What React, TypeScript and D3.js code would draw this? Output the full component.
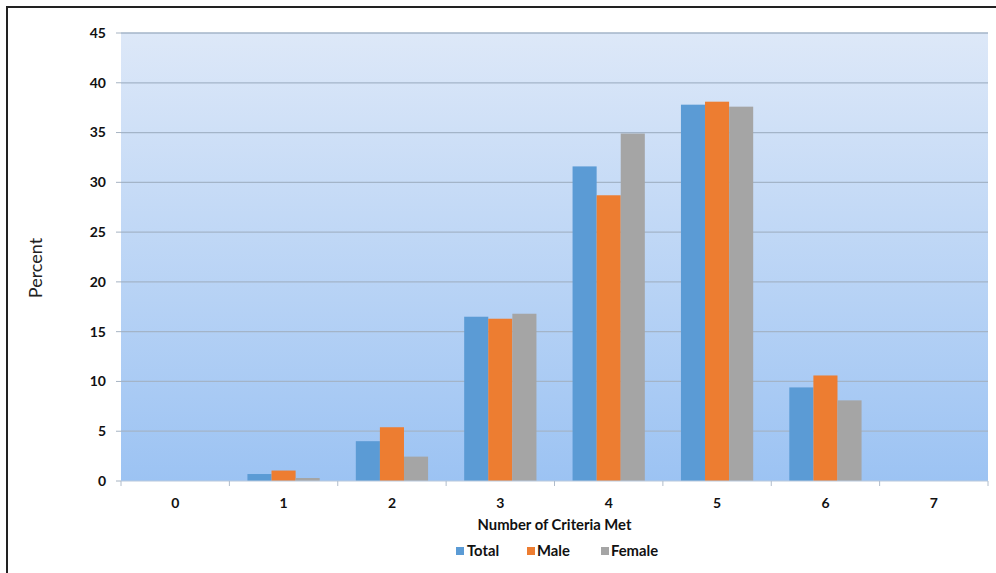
import React from "react";
import * as d3 from "d3";

const categories = ["0", "1", "2", "3", "4", "5", "6", "7"];
const seriesNames = ["Total", "Male", "Female"];
const totalValues = [0, 0.7, 4.0, 16.5, 31.6, 37.8, 9.4, 0];
const maleValues = [0, 1.05, 5.4, 16.3, 28.7, 38.1, 10.6, 0];
const femaleValues = [0, 0.3, 2.45, 16.8, 34.9, 37.6, 8.1, 0];
const yTicks = [0, 5, 10, 15, 20, 25, 30, 35, 40, 45];
const colors = ["#5b9bd5", "#ed7d31", "#a5a5a5"];

const W = 996;
const H = 573;
const plot = { left: 121, right: 988, top: 33, bottom: 481 };
const FONT = "Lato, 'Open Sans', sans-serif";

export default function App() {
  const x = d3
    .scaleBand<string>()
    .domain(categories)
    .range([plot.left, plot.right])
    .paddingInner(0)
    .paddingOuter(0);
  const y = d3.scaleLinear().domain([0, 45]).range([plot.bottom, plot.top]);
  const bw = x.bandwidth();
  const barW = bw / 4.5;
  const groupOffset = (bw - barW * 3) / 2;
  const series = [totalValues, maleValues, femaleValues];

  const legendItems = [
    { name: seriesNames[0], sx: 456, tx: 467 },
    { name: seriesNames[1], sx: 527, tx: 537 },
    { name: seriesNames[2], sx: 601, tx: 611 },
  ];

  return (
    <svg
      width={W}
      height={H}
      style={{ position: "absolute", left: 0, top: 0, background: "#fff" }}
      fontFamily={FONT}
    >
      <defs>
        <linearGradient id="bg" x1="0" y1="0" x2="0" y2="1">
          <stop offset="0" stopColor="#dde8f8" />
          <stop offset="1" stopColor="#9cc3f3" />
        </linearGradient>
      </defs>
      <rect x={7} y={7} width={W} height={H} fill="#fff" stroke="#222" strokeWidth={2} />
      <rect
        x={plot.left}
        y={plot.top}
        width={plot.right - plot.left}
        height={plot.bottom - plot.top}
        fill="url(#bg)"
      />
      {yTicks.map((t) => (
        <g key={t}>
          {t > 0 && (
            <line
              x1={plot.left}
              x2={plot.right}
              y1={y(t)}
              y2={y(t)}
              stroke="#a3b4c8"
              strokeWidth={1.3}
            />
          )}
          <line x1={plot.left - 5} x2={plot.left} y1={y(t)} y2={y(t)} stroke="#a6b3c2" />
          <text
            x={106}
            y={y(t)}
            dy="0.35em"
            textAnchor="end"
            fontSize={14}
            fontWeight="bold"
            fill="#111"
          >
            {t}
          </text>
        </g>
      ))}
      {categories.map((c, i) =>
        series.map((vals, s) => {
          const v = vals[i];
          if (v <= 0) return null;
          return (
            <rect
              key={c + s}
              x={(x(c) as number) + groupOffset + s * barW}
              y={y(v)}
              width={barW}
              height={y(0) - y(v)}
              fill={colors[s]}
            />
          );
        })
      )}
      <line x1={plot.left} x2={plot.right} y1={plot.bottom} y2={plot.bottom} stroke="#b8c8dc" />
      {categories.map((c) => (
        <line
          key={"t" + c}
          x1={x(c) as number}
          x2={x(c) as number}
          y1={plot.bottom}
          y2={plot.bottom + 5}
          stroke="#b0bccb"
        />
      ))}
      <line x1={plot.right} x2={plot.right} y1={plot.bottom} y2={plot.bottom + 5} stroke="#b0bccb" />
      {categories.map((c) => (
        <text
          key={"l" + c}
          x={(x(c) as number) + bw / 2}
          y={503}
          dy="0.35em"
          textAnchor="middle"
          fontSize={14}
          fontWeight="bold"
          fill="#111"
        >
          {c}
        </text>
      ))}
      <text
        x={(plot.left + plot.right) / 2}
        y={525}
        dy="0.35em"
        textAnchor="middle"
        fontSize={14.8}
        fontWeight="bold"
        fill="#111"
      >
        Number of Criteria Met
      </text>
      <text
        transform="translate(36,268) rotate(-90)"
        textAnchor="middle"
        dy="0.35em"
        fontSize={18}
        fill="#222"
      >
        Percent
      </text>
      {legendItems.map((it, i) => (
        <g key={it.name}>
          <rect x={it.sx} y={547} width={8} height={8} fill={colors[i]} />
          <text x={it.tx} y={551} dy="0.35em" fontSize={14.8} fontWeight="bold" fill="#111">
            {it.name}
          </text>
        </g>
      ))}
    </svg>
  );
}
